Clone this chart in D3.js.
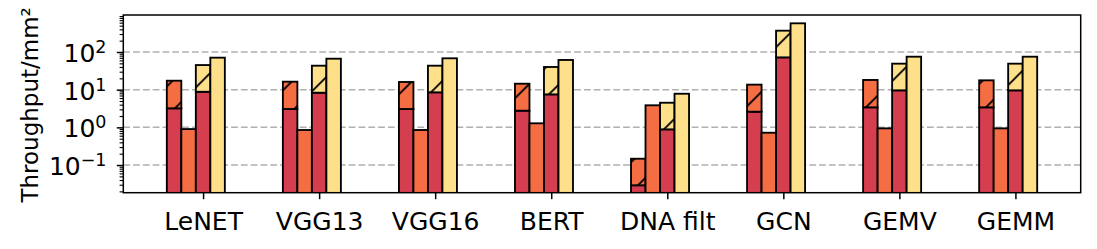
<!DOCTYPE html>
<html>
<head>
<meta charset="utf-8">
<script src="https://cdn.jsdelivr.net/npm/d3@7"></script>
<style>
  html, body { margin: 0; padding: 0; background: #fff; }
  svg { display: block; font-family: "DejaVu Sans", sans-serif; }
</style>
</head>
<body>
<div id="chart"></div>
<script>
// benchmark groups on the x axis
var benchmarks = ["LeNET", "VGG13", "VGG16", "BERT", "DNA filt", "GCN", "GEMV", "GEMM"];

// bar 1: red base, orange hatched part on top (value = top of stack)
var base1 = [3.2, 3.07, 3.07, 2.77, 0.029, 2.6, 3.4, 3.4];
var top1 = [17.3, 16.3, 16.0, 14.4, 0.147, 13.6, 18.1, 17.7];
// bar 2: plain orange
var plain2 = [0.90, 0.85, 0.85, 1.28, 3.85, 0.72, 0.94, 0.94];
// bar 3: red base, yellow hatched part on top
var base3 = [8.8, 8.3, 8.5, 7.5, 0.885, 72, 9.6, 9.6];
var top3 = [45, 43.3, 43.3, 40, 4.5, 368, 49, 49];
// bar 4: plain yellow
var plain4 = [70.7, 66.4, 68, 61.4, 7.8, 577, 75, 75];

var majorTicks = [0.1, 1, 10, 100];
var majorExp = ["\u22121", "0", "1", "2"];

var colRed = "#d53e4f", colOrange = "#f46d43", colYellow = "#fee08b";

var width = 1097, height = 249;
var plotL = 123.3, plotR = 1080.7, plotT = 15, plotB = 192.7;
var barW = 0.125;
var fontSize = 25;

var svg = d3.select("#chart").append("svg")
    .attr("width", width)
    .attr("height", height);

var x = d3.scaleLinear().domain([-0.6875, 7.5625]).range([plotL, plotR]);
var y = d3.scaleLog().domain([Math.pow(10, -1.7345), Math.pow(10, 2.982)]).range([plotB, plotT]);

var defs = svg.append("defs");
defs.append("clipPath").attr("id", "plotclip")
    .append("rect")
    .attr("x", plotL).attr("y", plotT)
    .attr("width", plotR - plotL).attr("height", plotB - plotT);

// "/" hatch, one line every 30px
function hatch(id, fill) {
    var p = defs.append("pattern")
        .attr("id", id)
        .attr("patternUnits", "userSpaceOnUse")
        .attr("x", 13.3).attr("y", 0)
        .attr("width", 30).attr("height", 30);
    p.append("rect").attr("width", 30).attr("height", 30).attr("fill", fill);
    p.append("path")
        .attr("d", "M-5,5 L5,-5 M0,30 L30,0 M25,35 L35,25")
        .attr("stroke", "#000")
        .attr("stroke-width", 1.85);
}
hatch("hatchOrange", colOrange);
hatch("hatchYellow", colYellow);

// grid
svg.append("g")
    .selectAll("line").data(majorTicks).enter().append("line")
    .attr("x1", plotL).attr("x2", plotR)
    .attr("y1", function(d) { return y(d); })
    .attr("y2", function(d) { return y(d); })
    .attr("stroke", "#b0b0b0")
    .attr("stroke-width", 1.5)
    .attr("stroke-dasharray", "6.8,3");

// bars: each entry -> [group, slot, low, high, fill]
var rects = [];
benchmarks.forEach(function(b, i) {
    var lo = y.domain()[0] / 10;
    rects.push([i, 0, lo, base1[i], colRed]);
    rects.push([i, 0, base1[i], top1[i], "url(#hatchOrange)"]);
    rects.push([i, 1, lo, plain2[i], colOrange]);
    rects.push([i, 2, lo, base3[i], colRed]);
    rects.push([i, 2, base3[i], top3[i], "url(#hatchYellow)"]);
    rects.push([i, 3, lo, plain4[i], colYellow]);
});

svg.append("g")
    .attr("clip-path", "url(#plotclip)")
    .selectAll("rect").data(rects).enter().append("rect")
    .attr("x", function(d) { return x(d[0] + (d[1] - 2) * barW - barW / 2); })
    .attr("width", x(barW) - x(0))
    .attr("y", function(d) { return y(d[3]); })
    .attr("height", function(d) { return Math.min(y(d[2]), plotB + 20) - y(d[3]); })
    .attr("fill", function(d) { return d[4]; })
    .attr("stroke", "#000")
    .attr("stroke-width", 1.85);

// frame
svg.append("rect")
    .attr("x", plotL).attr("y", plotT)
    .attr("width", plotR - plotL).attr("height", plotB - plotT)
    .attr("fill", "none")
    .attr("stroke", "#000")
    .attr("stroke-width", 1.5);

// y axis ticks
var minor = [];
[-2, -1, 0, 1, 2].forEach(function(e) {
    for (var k = 2; k <= 9; k++) {
        var v = k * Math.pow(10, e);
        if (v >= y.domain()[0] && v <= y.domain()[1]) minor.push(v);
    }
});

var yMinor = svg.append("g")
    .attr("transform", "translate(" + plotL + ",0)")
    .call(d3.axisLeft(y).tickValues(minor).tickSize(3.7).tickFormat(""));
yMinor.select(".domain").remove();
yMinor.selectAll("line").attr("stroke-width", 1.1);

var yMajor = svg.append("g")
    .attr("transform", "translate(" + plotL + ",0)")
    .call(d3.axisLeft(y).tickValues(majorTicks).tickSize(6.5).tickFormat(""));
yMajor.select(".domain").remove();
yMajor.selectAll("line").attr("stroke-width", 1.5);

var yLabels = svg.append("g").selectAll("text").data(majorTicks).enter().append("text")
    .attr("x", 106.5)
    .attr("y", function(d) { return y(d) + 9.9; })
    .attr("text-anchor", "end")
    .attr("font-size", fontSize)
    .attr("fill", "#000");
yLabels.append("tspan").text("10");
yLabels.append("tspan")
    .attr("dy", -8.8)
    .attr("font-size", fontSize * 0.7)
    .text(function(d, i) { return majorExp[i]; });

// x axis
var xAxis = svg.append("g")
    .attr("transform", "translate(0," + plotB + ")")
    .call(d3.axisBottom(x).tickValues(d3.range(benchmarks.length)).tickSize(6.5)
        .tickFormat(function(d) { return benchmarks[d]; }));
xAxis.select(".domain").remove();
xAxis.selectAll("line").attr("stroke-width", 1.5);
xAxis.selectAll("text")
    .attr("font-size", fontSize)
    .attr("font-family", "DejaVu Sans")
    .attr("fill", "#000")
    .attr("dy", null)
    .attr("y", 37);

// y axis title
svg.append("text")
    .attr("transform", "translate(38," + ((plotT + plotB) / 2 + 1) + ") rotate(-90)")
    .attr("text-anchor", "middle")
    .attr("font-size", 23)
    .attr("fill", "#000")
    .text("Throughput/mm\u00b2");
</script>
</body>
</html>
